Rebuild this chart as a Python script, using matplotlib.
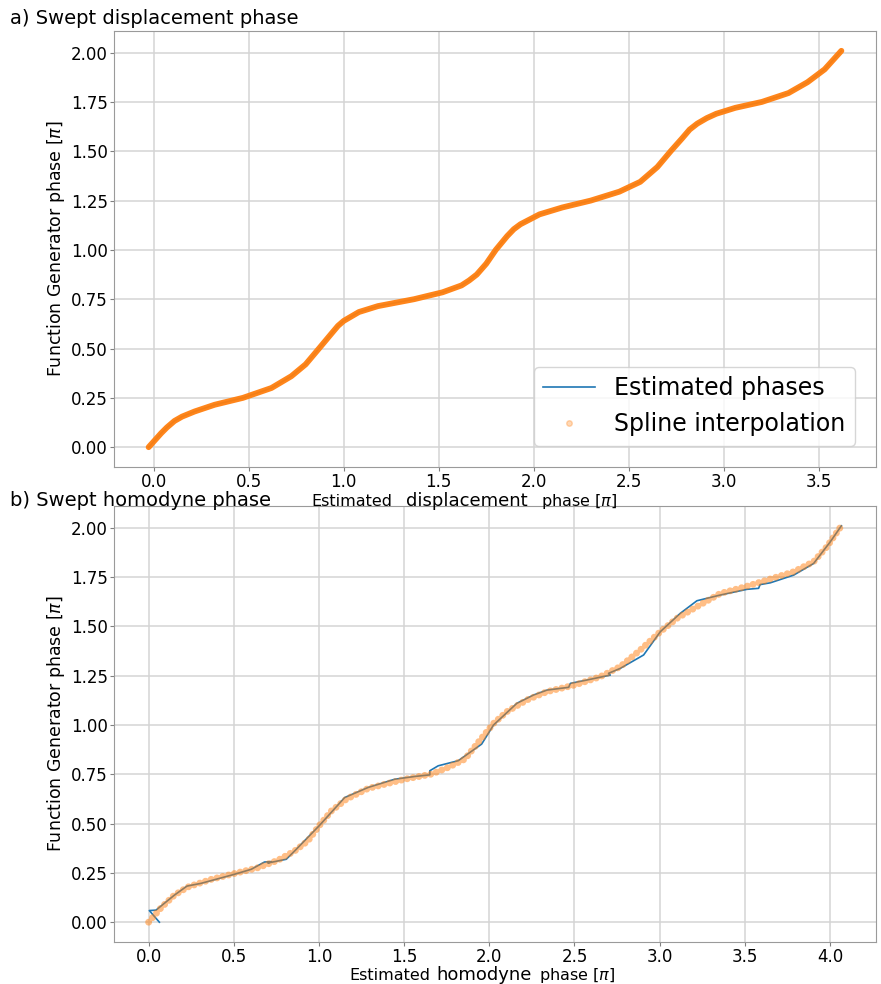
import matplotlib.pyplot as plt
from matplotlib.lines import Line2D

# a) swept displacement phase: estimated phase vs function generator phase (units of pi)
disp_x = [-0.026, 0.04, 0.07, 0.11, 0.15, 0.216, 0.321, 0.47, 0.62, 0.725, 0.80, 0.87,
          0.935, 0.97, 1.00, 1.08, 1.18, 1.37, 1.52, 1.62, 1.66, 1.70, 1.75, 1.80,
          1.86, 1.895, 1.93, 2.03, 2.15, 2.30, 2.45, 2.56, 2.65, 2.72,
          2.78, 2.82, 2.86, 2.91, 2.96, 3.06, 3.20, 3.34, 3.44, 3.53, 3.618]
disp_y = [0.0, 0.071, 0.10, 0.133, 0.155, 0.181, 0.215, 0.25, 0.30, 0.36, 0.42, 0.50,
          0.575, 0.615, 0.64, 0.685, 0.715, 0.75, 0.785, 0.82, 0.845, 0.875, 0.93, 1.0,
          1.07, 1.105, 1.13, 1.18, 1.215, 1.25, 1.295, 1.345, 1.42, 1.50,
          1.565, 1.61, 1.64, 1.668, 1.69, 1.72, 1.75, 1.795, 1.85, 1.915, 2.009]

# b) swept homodyne phase, raw estimates
homo_est_x = [0.063, 0.004, 0.043, 0.151, 0.225, 0.308, 0.5, 0.602, 0.68, 0.72, 0.70,
              0.778, 0.808, 0.857, 1.0, 1.151, 1.288, 1.445, 1.563, 1.651, 1.651, 1.70,
              1.818, 1.955, 2.025, 2.162, 2.26, 2.339, 2.466, 2.476, 2.573, 2.71, 2.70,
              2.769, 2.906, 3.004, 3.121, 3.219, 3.356, 3.513, 3.581, 3.59, 3.65, 3.787,
              3.904, 4.002, 4.067]
homo_est_y = [0.0, 0.059, 0.061, 0.137, 0.183, 0.197, 0.242, 0.268, 0.305, 0.307, 0.300,
              0.314, 0.319, 0.361, 0.488, 0.632, 0.683, 0.725, 0.739, 0.747, 0.768, 0.793,
              0.819, 0.903, 1.0, 1.110, 1.152, 1.177, 1.191, 1.211, 1.228, 1.253, 1.262,
              1.287, 1.355, 1.473, 1.566, 1.630, 1.659, 1.688, 1.693, 1.712, 1.721, 1.760,
              1.819, 1.929, 2.010]

# b) spline through the estimates
homo_spl_x = [0.0, 0.073, 0.151, 0.229, 0.367, 0.5, 0.641, 0.759, 0.857, 0.935, 1.0,
              1.073, 1.161, 1.288, 1.504, 1.661, 1.759, 1.857, 1.947, 2.025, 2.104,
              2.221, 2.339, 2.503, 2.652, 2.769, 2.886, 3.004, 3.102, 3.219, 3.356,
              3.503, 3.63, 3.787, 3.904, 3.982, 4.067]
homo_spl_y = [0.0, 0.073, 0.137, 0.178, 0.217, 0.246, 0.276, 0.314, 0.361, 0.412, 0.488,
              0.564, 0.624, 0.678, 0.725, 0.751, 0.785, 0.827, 0.925, 1.008, 1.068,
              1.127, 1.169, 1.203, 1.245, 1.296, 1.380, 1.473, 1.541, 1.600, 1.667,
              1.701, 1.735, 1.777, 1.828, 1.904, 2.010]

yticks = [0.0, 0.25, 0.5, 0.75, 1.0, 1.25, 1.5, 1.75, 2.0]

blue = '#1f77b4'
orange = '#ff7f0e'
W, H = 881, 984

fig = plt.figure(figsize=(W / 100, H / 100), dpi=100)
ax1 = fig.add_axes([114 / W, 1 - 467 / H, 762 / W, 436 / H])
ax2 = fig.add_axes([114 / W, 1 - 942 / H, 762 / W, 436 / H])

ax1.plot(disp_x, disp_y, color=blue, lw=1.2)
ax1.plot(disp_x, disp_y, color=orange, lw=4.2, alpha=0.95,
         solid_capstyle='round', solid_joinstyle='round')

ax2.plot(homo_est_x, homo_est_y, color=blue, lw=1.2)
ax2.plot(homo_spl_x, homo_spl_y, color=orange, lw=5, alpha=0.5,
         linestyle=(0, (0.01, 0.85)), dash_capstyle='round')

for ax in (ax1, ax2):
    ax.set_yticks(yticks)
    ax.set_yticklabels(['%.2f' % v for v in yticks])
    ax.grid(True, color='#d4d4d4', lw=1.1)
    ax.set_axisbelow(True)
    ax.tick_params(labelsize=12, color='#808080', length=3, pad=1.5)
    for s in ax.spines.values():
        s.set_color('#9a9a9a')

handles = [Line2D([], [], color=blue, lw=1.2),
           Line2D([], [], ls='none', marker='o', ms=4, color=orange, alpha=0.3)]
ax1.legend(handles, ['Estimated phases', 'Spline interpolation'], loc='lower right',
           fontsize=17, handlelength=2.2, borderaxespad=0.9)

# titles and axis labels
fig.text(10 / W, 1 - 24 / H, 'a) Swept displacement phase', fontsize=14, va='baseline')
fig.text(10 / W, 1 - 506 / H, 'b) Swept homodyne phase', fontsize=14, va='baseline')

for ax, word, base, left, right in ((ax1, 'displacement', 506, 392, 541),
                                     (ax2, 'homodyne', 980, 430, 539)):
    fig.text(left / W, 1 - base / H, 'Estimated', fontsize=11.5, ha='right', va='baseline')
    fig.text((left + right) / 2 / W, 1 - base / H, word, fontsize=13,
             ha='center', va='baseline')
    fig.text(right / W, 1 - base / H, r'phase [$\pi$]', fontsize=11.5,
             ha='left', va='baseline')
    ax.set_ylabel(r'Function Generator phase [$\pi$]', fontsize=12.5)
    ax.yaxis.set_label_coords(-0.062, 0.5)

fig.savefig('out.png', dpi=100)
